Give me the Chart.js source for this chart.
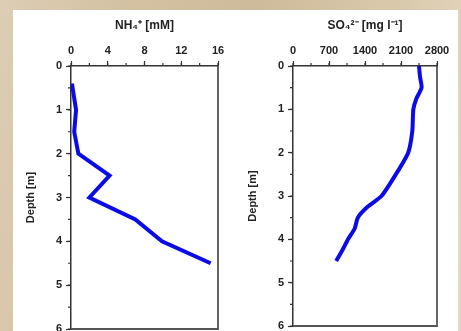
<!DOCTYPE html>
<html lang="en">
<head>
  <meta charset="UTF-8">
  <title>Depth profiles</title>
  <script src="https://cdn.jsdelivr.net/npm/chart.js"></script>
  <style>
    html, body { margin: 0; padding: 0; }
    body {
      width: 461px; height: 331px; overflow: hidden; position: relative;
      background: linear-gradient(100deg, #ddcdb4 0%, #d3c1a2 25%, #cdbb9b 50%, #d9c8aa 75%, #e6d9c3 100%);
    }
    .sheet { position: absolute; left: 13px; top: 10px; width: 445px; height: 340px; background: #fff; }
    .panel { position: absolute; top: 0; height: 340px; }
    #left { left: 0; width: 222px; }
    #right { left: 222px; width: 223px; }
  </style>
</head>
<body>
  <div class="sheet">
    <div class="panel" id="left"><canvas id="nh4Chart"></canvas></div>
    <div class="panel" id="right"><canvas id="so4Chart"></canvas></div>
  </div>

  <script>
    // NH4+ profile
    const nh4Depth = [0.4, 1.0, 1.5, 2.0, 2.5, 3.0, 3.5, 4.0, 4.5];
    const nh4Values = [0.1, 0.55, 0.35, 0.8, 4.2, 2.0, 7.0, 9.9, 15.2];
    const nh4Ticks = [0, 4, 8, 12, 16];

    // SO4 2- profile
    const so4Depth = [0.0, 0.25, 0.5, 0.75, 1.0, 1.5, 2.0, 2.5, 3.0, 3.25, 3.5, 3.75, 4.0, 4.25, 4.5];
    const so4Values = [2450, 2470, 2500, 2400, 2340, 2320, 2240, 2000, 1720, 1450, 1260, 1200, 1070, 960, 840];
    const so4Ticks = [0, 700, 1400, 2100, 2800];

    const depthTicks = [0, 1, 2, 3, 4, 5, 6];

    const font = { family: 'Liberation Sans, Arial, sans-serif', weight: 'bold', size: 11 };

    // minor ticks + closing frame lines
    const framePlugin = {
      id: 'frame',
      afterDraw(chart) {
        const { ctx, chartArea: a, scales } = chart;
        ctx.save();
        ctx.strokeStyle = '#333';
        ctx.lineWidth = 1.2;
        const x = scales.x, y = scales.y;
        ctx.beginPath();
        for (let v = x.min; v <= x.max; v += x.options.minorStep) {
          const px = x.getPixelForValue(v);
          ctx.moveTo(px, a.top);
          ctx.lineTo(px, a.top - 3);
        }
        for (let v = y.min; v <= y.max; v += y.options.minorStep) {
          const py = y.getPixelForValue(v);
          ctx.moveTo(a.left, py);
          ctx.lineTo(a.left - 3, py);
        }
        ctx.stroke();
        ctx.strokeStyle = '#555';
        ctx.lineWidth = 1.8;
        ctx.beginPath();
        ctx.moveTo(a.right, a.top);
        ctx.lineTo(a.right, a.bottom);
        ctx.lineTo(a.left, a.bottom);
        ctx.stroke();
        ctx.restore();
      }
    };

    function makeProfile(canvasId, depths, values, xTicks, title, pad, tension) {
      const step = xTicks[1] - xTicks[0];
      return new Chart(document.getElementById(canvasId), {
        type: 'scatter',
        data: {
          datasets: [{
            data: depths.map((d, i) => ({ x: values[i], y: d })),
            showLine: true,
            borderColor: '#0b0be8',
            borderWidth: 4,
            pointRadius: 0,
            tension: tension,
          }],
        },
        options: {
          responsive: true,
          maintainAspectRatio: false,
          animation: false,
          layout: { padding: { top: 0, right: pad.right, bottom: pad.bottom, left: 0 } },
          plugins: { legend: { display: false }, tooltip: { enabled: false } },
          scales: {
            x: {
              type: 'linear',
              position: 'top',
              min: xTicks[0],
              max: xTicks[xTicks.length - 1],
              minorStep: step / 2,
              afterBuildTicks: s => { s.ticks = xTicks.map(v => ({ value: v })); },
              afterFit: s => { s.height = 56; },
              ticks: { color: '#222', font, padding: 3, maxRotation: 0, callback: v => String(v) },
              grid: { drawOnChartArea: false, tickLength: 5, tickColor: '#333', tickWidth: 1.2 },
              border: { color: '#333', width: 1.5 },
              title: { display: true, text: title, color: '#222', font: { ...font, size: 12 }, padding: { top: 8, bottom: 0 } },
            },
            y: {
              type: 'linear',
              reverse: true,
              min: 0,
              max: 6,
              minorStep: 0.5,
              afterBuildTicks: s => { s.ticks = depthTicks.map(v => ({ value: v })); },
              afterFit: s => { s.width = 58; },
              ticks: { color: '#222', font, padding: 4 },
              grid: { drawOnChartArea: false, tickLength: 5, tickColor: '#333', tickWidth: 1.2 },
              border: { color: '#333', width: 1.5 },
              title: { display: true, text: 'Depth [m]', color: '#222', font, padding: { top: 11, bottom: 0 } },
            },
          },
        },
        plugins: [framePlugin],
      });
    }

    makeProfile('nh4Chart', nh4Depth, nh4Values, nh4Ticks, 'NH\u2084\u207A [mM]', { right: 17, bottom: 21 }, 0);
    makeProfile('so4Chart', so4Depth, so4Values, so4Ticks, 'SO\u2084\u00B2\u207B [mg l\u207B\u00B9]', { right: 21, bottom: 24 }, 0.2);
  </script>
</body>
</html>
